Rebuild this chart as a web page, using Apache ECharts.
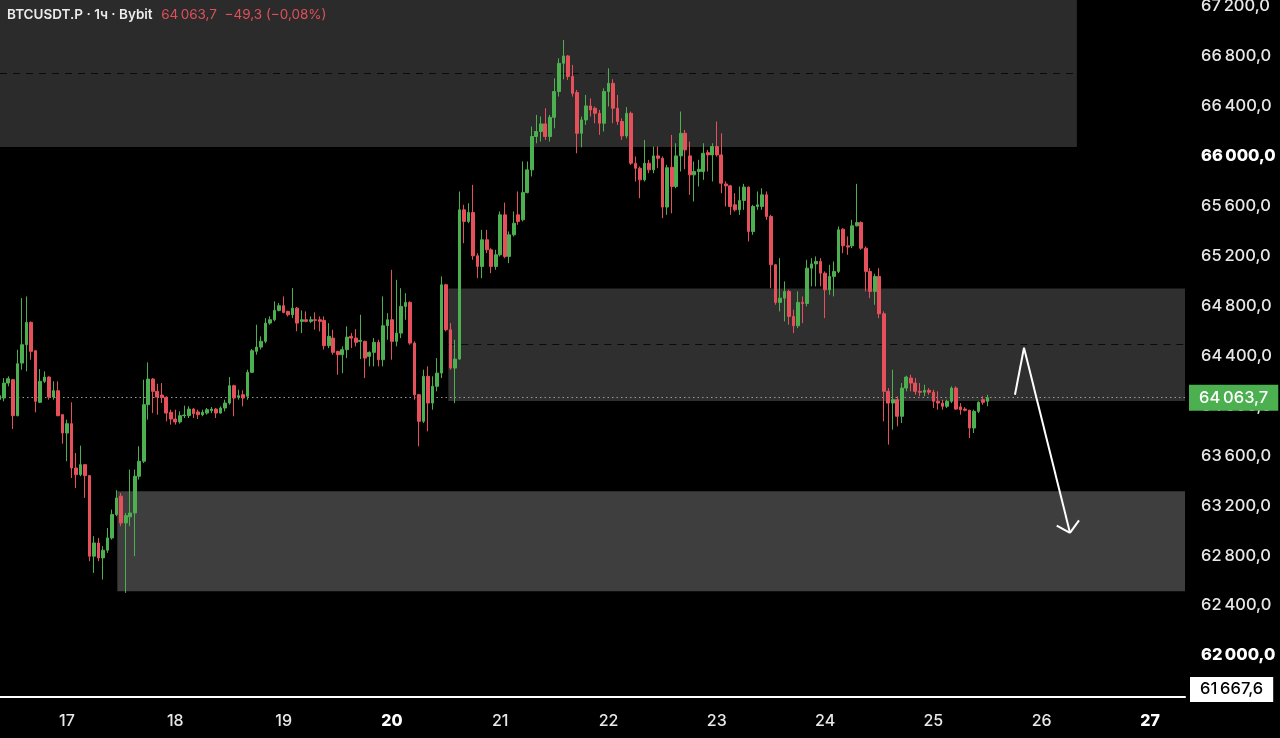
<!DOCTYPE html>
<html>
<head>
<meta charset="utf-8">
<script src="https://cdn.jsdelivr.net/npm/echarts@6/dist/echarts.min.js"></script>
<style>
html,body{margin:0;padding:0;background:#000;}
#chart{width:1280px;height:738px;}
</style>
</head>
<body>
<div id="chart"></div>
<script>
// ---- data (hourly candles, first candle = 16th 09:00, hour offsets relative to 17th 00:00) ----
const firstHour = -15;
const opens = [
64050,64061,64181,64208,63920,64341,64488,64667,64440,64027,64195,64229,64069,64120,63928,63781,63856,63501,63448,63528,
63440,62795,62901,62781,62843,62941,63128,63275,63061,63110,63141,63435,63555,64008,64213,64115,64085,64067,63947,63893,
63870,63920,63920,63973,63950,63928,63941,63960,63973,63941,63981,64021,64160,64067,64088,64075,64267,64435,64469,64515,
64661,64688,64763,64800,64755,64728,64781,64675,64688,64675,64688,64688,64683,64480,64541,64435,64408,64448,64555,64541,
64515,64515,64395,64427,64507,64368,64640,64688,64515,64581,64795,64827,64501,64088,63875,64235,64021,64155,64261,64968,
64608,64301,64373,65568,65475,65547,65200,65115,65328,65248,65115,65208,65528,65195,65368,65528,65488,65706,65888,66155,
66195,66256,66155,66309,66515,66741,66800,66635,66507,66181,66288,66400,66381,66341,66261,66515,66581,66381,66275,66160,
66341,65941,65901,65808,65941,65888,66000,65981,65590,65909,65755,66000,66181,66000,65848,65875,65875,66026,66008,66075,
66008,65775,65760,65608,65568,65643,65750,65395,65595,65595,65688,65515,65128,64827,64861,64915,64715,64640,64827,64818,
65101,65135,65155,65061,64928,65035,65075,65413,65280,65280,65440,65466,65261,65075,64915,65035,64736,64115,64021,64048,
63915,64141,64221,64181,64115,64108,64123,64108,64035,64021,63995,64035,64141,63990,63973,63963,63821,63955,64048,64035
];
const closes = [
64080,64181,64216,63920,64336,64488,64667,64435,64035,64195,64229,64069,64120,63920,63781,63856,63501,63448,63528,63440,
62795,62901,62781,62843,62941,63128,63261,63061,63120,63141,63435,63555,64008,64213,64115,64069,64065,63941,63893,63870,
63920,63925,63973,63936,63928,63947,63968,63973,63941,63981,64021,64160,64061,64080,64061,64267,64440,64469,64515,64661,
64688,64763,64800,64747,64728,64781,64661,64688,64675,64688,64683,64675,64480,64555,64427,64408,64448,64549,64541,64507,
64523,64381,64427,64507,64368,64640,64688,64515,64581,64795,64827,64501,64088,63875,64235,64021,64155,64261,64968,64608,
64301,64373,65568,65475,65547,65200,65115,65328,65248,65115,65208,65528,65195,65368,65461,65475,65706,65888,66155,66195,
66256,66155,66309,66515,66741,66800,66635,66501,66181,66288,66400,66368,66341,66261,66515,66581,66381,66275,66160,66341,
65941,65901,65808,65941,65888,66000,65981,65590,65905,65755,66000,66181,66048,65848,65875,65893,66021,66008,66075,66008,
65781,65760,65595,65568,65643,65750,65395,65595,65608,65688,65515,65128,64827,64861,64915,64715,64640,64827,64818,65101,
65135,65155,65061,64928,65035,65075,65408,65280,65270,65440,65466,65261,65075,64915,65035,64736,64115,64021,64048,63915,
64141,64229,64181,64115,64108,64123,64108,64035,64021,63995,64035,64141,63973,63968,63963,63821,63955,64027,64027,64063.7
];
const lows = [
64040,64035,64155,63813,63915,64288,64275,64368,63947,64021,64181,64048,64048,63915,63696,63555,63421,63341,63435,63261,
62755,62661,62755,62608,62821,62928,63115,63035,62501,63035,62795,63408,63541,63888,63941,63928,64021,63875,63848,63848,
63856,63901,63901,63901,63893,63915,63928,63940,63901,63936,63955,64008,63915,64048,63995,64048,64262,64408,64450,64500,
64648,64675,64755,64740,64715,64701,64595,64581,64668,64661,64608,64595,64450,64460,64408,64248,64261,64381,64461,64475,
64373,64221,64315,64315,64315,64315,64528,64368,64475,64541,64688,64488,64048,63675,63861,63795,63968,64115,64221,64595,
64288,64021,64368,65301,65461,65168,65021,65021,65221,65061,65088,65195,65181,65141,65355,65448,65475,65700,65835,66101,
66115,66128,66115,66221,66475,66613,66608,66475,66021,66069,66248,66315,66261,66168,66195,66395,66261,66248,66128,66141,
65928,65795,65661,65795,65861,65861,65901,65501,65528,65541,65741,65875,65893,65688,65635,65755,65808,65875,65795,65995,
65701,65595,65528,65555,65528,65568,65315,65368,65568,65568,65488,64941,64808,64755,64675,64648,64581,64621,64661,64795,
64955,64955,64955,64701,64888,64875,65061,65221,65208,65261,65435,65248,64915,64861,64808,64701,63875,63688,63808,63835,
63861,64115,64115,64088,64075,64075,64088,63981,63968,63968,63981,64021,63968,63928,63955,63741,63781,63941,64008,63995
];
const highs = [
64090,64221,64235,64215,64448,64861,64875,64675,64445,64293,64275,64235,64195,64195,63930,63888,64027,63621,63680,63530,
63445,62955,62941,62875,63021,63168,63323,63301,63141,63488,63488,63675,64208,64347,64221,64176,64181,64075,63968,63968,
63955,64000,63995,63981,63968,63968,63981,63989,63981,63995,64048,64229,64168,64128,64123,64288,64453,64648,64555,64701,
64715,64835,64821,64875,64760,64941,64790,64763,64755,64715,64747,64715,64715,64661,64608,64440,64475,64635,64581,64613,
64728,64520,64435,64541,64528,64875,64741,65088,65008,64941,64901,64835,64515,64095,64288,64315,64235,64381,65035,64975,
64661,64528,65715,65608,65621,65768,65221,65408,65408,65261,65248,65555,65626,65395,65555,65715,65955,65955,66235,66328,
66315,66381,66328,66621,66781,66928,66808,66728,66528,66315,66488,66461,66395,66368,66541,66701,66613,66488,66301,66390,
66355,65995,65915,66128,65968,66075,66075,65995,65928,66168,66101,66355,66208,66115,65955,65968,66101,66048,66101,66275,
66181,65795,65768,65701,65755,65776,65755,65608,65715,65741,65715,65528,65135,65181,64995,64928,64768,64915,64875,65168,
65181,65195,65181,65075,65128,65155,65435,65421,65355,65488,65776,65475,65275,65101,65056,65101,64755,64141,64288,64075,
64181,64240,64248,64221,64181,64168,64141,64128,64115,64048,64048,64155,64155,64021,63988,63968,63968,64035,64075,64088
];
const lastPrice = 64063.7;
const headerSymbol = 'BTCUSDT.P · 1ч · Bybit';
const headerQuote = '64\u2009063,7  \u221249,3 (\u22120,08%)';

// x axis: hours relative to 17th 00:00, ticks at midnights
const dayTicks = [0, 24, 48, 72, 96, 120, 144, 168, 192, 216, 240];
const dayLabels = ['17', '18', '19', '20', '21', '22', '23', '24', '25', '26', '27'];
const boldDays = ['20', '27'];
// y axis tick labels
const priceTicks = [62000, 62400, 62800, 63200, 63600, 64000, 64400, 64800, 65200, 65600, 66000, 66400, 66800, 67200];
const boldPrices = [62000, 66000];
const axisMinPrice = 61667.6;

// zones: [startHour, endHour, lowPrice, highPrice]
const zoneTop = [-14.85, 223.8, 66072, 67248];
const zoneMid = [84.5, 247.76, 64037, 64938];
const zoneLow = [11.15, 247.76, 62514, 63314];
// dashed levels: [startHour, endHour, price]
const levelTop = [-14.85, 223.8, 66661];
const levelMid = [84.5, 247.76, 64488];
// drawn arrow: [hour, price] points
const arrowPath = [[210.08, 64088], [212.08, 64464], [222.27, 62982]];
const arrowHead = [[219.33, 63040], [224.27, 63082]];

// ---- chart ----
const X_MIN = -14.85, X_MAX = 247.76, Y_MIN = axisMinPrice, Y_MAX = 67248;
const GREEN = '#4caf50', RED = '#e5505b';
const FONT = 'Inter, Roboto, sans-serif';

function fmtPrice(v) {
  const p = Number(v).toFixed(1).split('.');
  return p[0].replace(/\B(?=(\d{3})+(?!\d))/g, '\u2009') + ',' + p[1];
}

const candleData = opens.map((o, i) => [firstHour + i, o, closes[i], lows[i], highs[i]]);

const seg = (a, b) => [{ coord: a }, { coord: b }];

const chart = echarts.init(document.getElementById('chart'), null, { renderer: 'canvas' });
chart.setOption({
  animation: false,
  backgroundColor: '#000',
  textStyle: { fontFamily: FONT },
  title: {
    left: 7, top: 6, padding: 0,
    text: '{a|' + headerSymbol + '}  {b|' + headerQuote + '}',
    textStyle: {
      rich: {
        a: { color: '#ececec', fontSize: 13.5, fontWeight: 600, fontFamily: FONT },
        b: { color: '#e0505a', fontSize: 13.5, fontWeight: 400, fontFamily: FONT }
      }
    }
  },
  grid: { left: 0, right: 95, top: 0, bottom: 41, containLabel: false, outerBoundsMode: 'none' },
  xAxis: {
    type: 'value', min: X_MIN, max: X_MAX,
    splitLine: { show: false },
    axisTick: { show: false },
    axisLine: { show: true, onZero: false, lineStyle: { color: '#ffffff', width: 2 } },
    axisLabel: {
      customValues: dayTicks,
      margin: 16,
      formatter: function (v) {
        const idx = dayTicks.indexOf(Math.round(v));
        const d = idx >= 0 ? dayLabels[idx] : '';
        return boldDays.indexOf(d) >= 0 ? '{b|' + d + '}' : '{n|' + d + '}';
      },
      rich: {
        n: { color: '#e8e8e8', fontSize: 16, fontWeight: 500, fontFamily: FONT },
        b: { color: '#ffffff', fontSize: 16, fontWeight: 800, fontFamily: FONT }
      }
    }
  },
  yAxis: {
    type: 'value', position: 'right', min: Y_MIN, max: Y_MAX,
    splitLine: { show: false },
    axisTick: { show: false },
    axisLine: { show: false },
    axisLabel: {
      customValues: priceTicks,
      margin: 16,
      align: 'left',
      formatter: function (v) {
        const t = fmtPrice(v);
        return boldPrices.indexOf(Math.round(v)) >= 0 ? '{b|' + t + '}' : '{n|' + t + '}';
      },
      rich: {
        n: { color: '#e8e8e8', fontSize: 16.5, fontWeight: 500, fontFamily: FONT },
        b: { color: '#ffffff', fontSize: 16.5, fontWeight: 800, fontFamily: FONT }
      }
    }
  },
  series: [
    {
      name: 'zones', type: 'line', data: [], z: 1, silent: true,
      markArea: {
        silent: true,
        data: [
          [{ coord: [zoneTop[0], zoneTop[3]], itemStyle: { color: '#2b2b2b' } }, { coord: [zoneTop[1], zoneTop[2]] }],
          [{ coord: [zoneMid[0], zoneMid[3]], itemStyle: { color: '#2f2f2f' } }, { coord: [zoneMid[1], zoneMid[2]] }],
          [{ coord: [zoneLow[0], zoneLow[3]], itemStyle: { color: '#3e3e3e' } }, { coord: [zoneLow[1], zoneLow[2]] }]
        ]
      },
      markLine: {
        silent: true, symbol: 'none', label: { show: false },
        lineStyle: { color: '#0a0a0a', type: [7, 6], width: 1.2 },
        data: [
          seg([levelTop[0], levelTop[2]], [levelTop[1], levelTop[2]]),
          seg([levelMid[0], levelMid[2]], [levelMid[1], levelMid[2]])
        ]
      }
    },
    {
      name: 'BTCUSDT.P', type: 'candlestick', z: 5,
      data: candleData,
      encode: { x: 0, y: [1, 2, 3, 4] },
      barWidth: 3.2,
      itemStyle: {
        color: GREEN, color0: RED, borderColor: GREEN, borderColor0: RED,
        borderColorDoji: GREEN, borderWidth: 1
      },
      markLine: {
        silent: true, symbol: 'none',
        data: [
          {
            yAxis: lastPrice,
            lineStyle: { color: '#9a9a9a', type: [1.5, 3], width: 1 },
            label: {
              show: true, position: 'end', distance: 4,
              formatter: function () { return fmtPrice(lastPrice); },
              backgroundColor: GREEN, color: '#ffffff', fontSize: 16.5, fontWeight: 500,
              fontFamily: FONT,
              padding: [4, 10, 4, 10], lineHeight: 18
            }
          },
          {
            yAxis: axisMinPrice,
            lineStyle: { color: 'rgba(0,0,0,0)', width: 0 },
            label: {
              show: true, position: 'end', distance: 5,
              formatter: function () { return '{m|' + fmtPrice(axisMinPrice) + '}\n{s| }'; },
              rich: {
                m: { backgroundColor: '#ffffff', color: '#000000', fontSize: 16.5, fontWeight: 500,
                     fontFamily: FONT, padding: [4, 10, 4, 10], lineHeight: 18 },
                s: { fontSize: 2, lineHeight: 15 }
              }
            }
          }
        ]
      }
    },
    {
      name: 'arrow', type: 'line', data: [], z: 10, silent: true,
      markLine: {
        silent: true, symbol: 'none', label: { show: false },
        lineStyle: { color: '#ffffff', type: 'solid', width: 2 },
        data: [
          seg(arrowPath[0], arrowPath[1]),
          seg(arrowPath[1], arrowPath[2]),
          seg(arrowPath[2], arrowHead[0]),
          seg(arrowPath[2], arrowHead[1])
        ]
      }
    }
  ]
});
</script>
</body>
</html>
